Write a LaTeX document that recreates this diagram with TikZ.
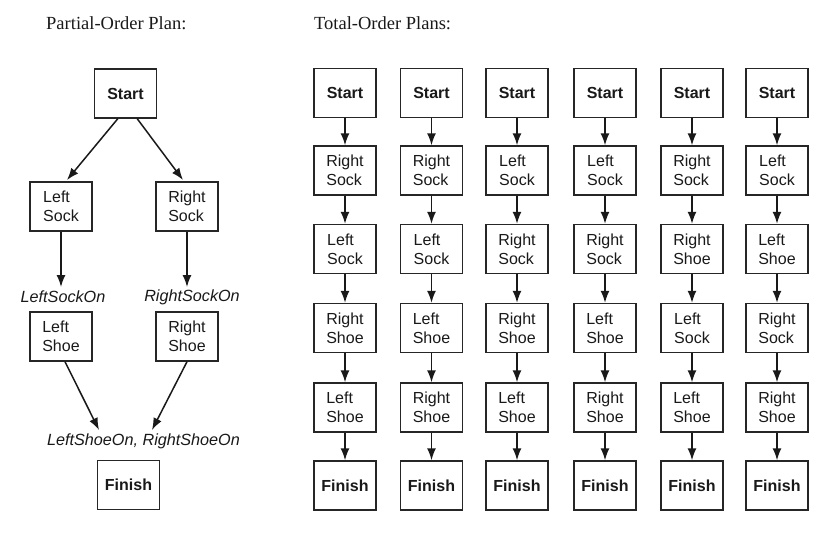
\documentclass[tikz,border=0pt]{standalone}
\usepackage{fontspec}
\setmainfont{Liberation Serif}
\setsansfont{Liberation Sans}
\usetikzlibrary{arrows.meta}
\newcommand\RSk{Right\\Sock}
\newcommand\LSk{Left\\Sock}
\newcommand\RSh{Right\\Shoe}
\newcommand\LSh{Left\\Shoe}
\begin{document}
\begin{tikzpicture}[x=1pt,y=-1pt,
  box/.style={draw=black!85,line width=1.4pt,minimum width=62pt,minimum height=49pt,inner sep=0pt,
    align=left,font=\sffamily\fontsize{16}{19}\selectfont,text=black!90},
  boldbox/.style={box,font=\sffamily\bfseries\fontsize{16}{19}\selectfont},
  arr/.style={draw=black!90,line width=1.5pt,-{Latex[length=12pt,width=9pt]}},
  lab/.style={font=\sffamily\itshape\fontsize{16.2}{19}\selectfont,text=black!90,inner sep=0pt},
  ttl/.style={font=\fontsize{18.5}{21}\selectfont,anchor=base west,inner sep=0pt,text=black!90}]
\useasboundingbox (0,0) rectangle (832,539);
\node[ttl] (t1) at (46,29) {Partial-Order Plan:};
\node[ttl] (t2) at (314,29) {Total-Order Plans:};
% partial order
\node[boldbox] (ps) at (125.5,93.5) {Start};
\node[box] (pls) at (61,206.5) {\LSk};
\node[box] (prs) at (187,206.5) {\RSk};
\node[lab] (lso) at (63,297) {LeftSockOn};
\node[lab] (rso) at (192,297) {RightSockOn};
\node[box] (plh) at (61,336.5) {\LSh};
\node[box] (prh) at (187,336.5) {\RSh};
\node[lab] (sho) at (143.5,441) {LeftShoeOn, RightShoeOn};
\node[boldbox] (pf) at (128.5,485) {Finish};
\coordinate (c1) at (67,180);
\coordinate (c2) at (183,180);
\coordinate (c3) at (61,287);
\coordinate (c4) at (187,287);
\coordinate (c5) at (99,430);
\coordinate (c6) at (152,430);
\draw[arr] (ps.south west) ++(24,0) -- (c1);
\draw[arr] (ps.south east) ++(-20,0) -- (c2);
\draw[arr] (pls) -- (c3);
\draw[arr] (prs) -- (c4);
\draw[arr] (plh.south) ++(4,0) -- (c5);
\draw[arr] (prh.south) -- (c6);
% total order
\foreach \i/\x/\a/\b/\c/\d in {1/345/\RSk/\LSk/\RSh/\LSh,
  2/431.5/\RSk/\LSk/\LSh/\RSh,
  3/517/\LSk/\RSk/\RSh/\LSh,
  4/605/\LSk/\RSk/\LSh/\RSh,
  5/692/\RSk/\RSh/\LSk/\LSh,
  6/777/\LSk/\LSh/\RSk/\RSh}{
  \node[boldbox] (s\i) at (\x,93) {Start};
  \node[box] (a\i) at (\x,170.5) {\a};
  \node[box] (b\i) at (\x,249) {\b};
  \node[box] (c\i) at (\x,328) {\c};
  \node[box] (d\i) at (\x,407.5) {\d};
  \node[boldbox] (f\i) at (\x,485.5) {Finish};
  \draw[arr] (s\i) -- (a\i);
  \draw[arr] (a\i) -- (b\i);
  \draw[arr] (b\i) -- (c\i);
  \draw[arr] (c\i) -- (d\i);
  \draw[arr] (d\i) -- (f\i);
}
\end{tikzpicture}
\end{document}
